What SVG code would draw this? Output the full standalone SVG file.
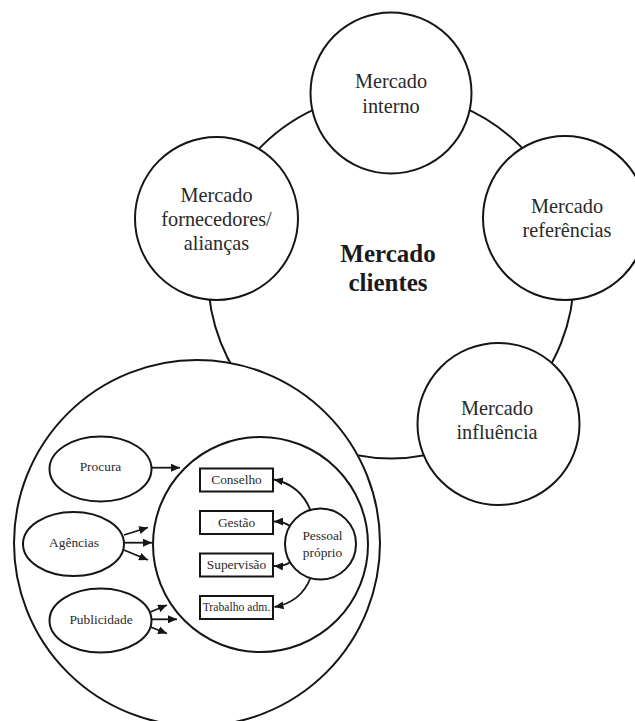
<svg xmlns="http://www.w3.org/2000/svg" width="635" height="721" viewBox="0 0 635 721">
  <defs>
    <style>
      .ring { fill: #fff; stroke: #151515; stroke-width: 2; }
      .box { fill: #fff; stroke: #151515; stroke-width: 2; }
      .lbl { font-family: "Liberation Serif", "Times New Roman", serif; fill: #2a2a2a; text-anchor: middle; }
      .big { font-size: 20.3px; }
      .small { font-size: 13.4px; }
      .hub { font-size: 25px; font-weight: bold; fill: #1a1a1a; }
      .link { fill: none; stroke: #151515; stroke-width: 1.8; }
    </style>
    <marker id="head" markerUnits="userSpaceOnUse" markerWidth="10" markerHeight="8" refX="9" refY="4" orient="auto">
      <path d="M0,0 L9,4 L0,8 z" fill="#151515"/>
    </marker>
  </defs>

  <!-- central market ring -->
  <g id="mercado-clientes">
    <circle class="ring" cx="391" cy="275.5" r="183"/>
    <text class="lbl hub" x="388" y="262">Mercado</text>
    <text class="lbl hub" x="388" y="291">clientes</text>
  </g>

  <g id="mercado-interno">
    <circle class="ring" cx="391" cy="93" r="80.5"/>
    <text class="lbl big" x="391" y="88">Mercado</text>
    <text class="lbl big" x="391" y="113">interno</text>
  </g>

  <g id="mercado-fornecedores">
    <circle class="ring" cx="216.5" cy="218.5" r="81.5"/>
    <text class="lbl big" x="216.5" y="202">Mercado</text>
    <text class="lbl big" x="216.5" y="226">fornecedores/</text>
    <text class="lbl big" x="216.5" y="250">alianças</text>
  </g>

  <g id="mercado-referencias">
    <circle class="ring" cx="565" cy="218" r="82"/>
    <text class="lbl big" x="567" y="213">Mercado</text>
    <text class="lbl big" x="567" y="237">referências</text>
  </g>

  <g id="mercado-influencia">
    <circle class="ring" cx="498.5" cy="424" r="81"/>
    <text class="lbl big" x="497" y="415">Mercado</text>
    <text class="lbl big" x="497" y="439">influência</text>
  </g>

  <!-- recruitment market (lower left) -->
  <g id="mercado-recrutamento">
    <circle class="ring" cx="197" cy="543" r="183"/>
  </g>

  <g id="organizacao">
    <circle class="ring" cx="260.5" cy="544.5" r="107.5"/>
  </g>

  <g id="procura">
    <ellipse class="ring" cx="100.5" cy="469" rx="51" ry="32.5"/>
    <text class="lbl small" x="100.5" y="471">Procura</text>
  </g>

  <g id="agencias">
    <ellipse class="ring" cx="73.5" cy="544" rx="50.5" ry="32"/>
    <text class="lbl small" x="74" y="547">Agências</text>
  </g>

  <g id="publicidade">
    <ellipse class="ring" cx="100.5" cy="620.5" rx="51" ry="32"/>
    <text class="lbl small" x="101" y="623.5">Publicidade</text>
  </g>

  <g id="conselho">
    <rect class="box" x="200" y="468.5" width="73" height="23"/>
    <text class="lbl small" x="236.5" y="484">Conselho</text>
  </g>

  <g id="gestao">
    <rect class="box" x="200" y="511" width="73" height="23"/>
    <text class="lbl small" x="236.5" y="526.5">Gestão</text>
  </g>

  <g id="supervisao">
    <rect class="box" x="200" y="553.5" width="73" height="23"/>
    <text class="lbl small" x="236.5" y="569">Supervisão</text>
  </g>

  <g id="trabalho-adm">
    <rect class="box" x="200" y="596" width="73" height="23"/>
    <text class="lbl" style="font-size:11.7px" x="236.5" y="611">Trabalho adm.</text>
  </g>

  <g id="pessoal-proprio">
    <circle class="ring" cx="320.5" cy="544" r="35.5"/>
    <text class="lbl small" x="322.5" y="540">Pessoal</text>
    <text class="lbl small" x="322.5" y="556.5">próprio</text>
  </g>

  <!-- connectors -->
  <g id="connectors">
    <path class="link" d="M152,467.7 L180,467.7" marker-end="url(#head)"/>

    <path class="link" d="M124,535 L148,527.5" marker-end="url(#head)"/>
    <path class="link" d="M125,542.7 L152,542.7" marker-end="url(#head)"/>
    <path class="link" d="M124,550 L148,560" marker-end="url(#head)"/>

    <path class="link" d="M150.5,612 L167,605" marker-end="url(#head)"/>
    <path class="link" d="M151.5,619.3 L177,619.3" marker-end="url(#head)"/>
    <path class="link" d="M150.5,627 L167,633.5" marker-end="url(#head)"/>

    <path class="link" d="M310.5,510 Q300,485 274,479.5" marker-end="url(#head)"/>
    <path class="link" d="M290,526 Q284,521.5 274,521.5" marker-end="url(#head)"/>
    <path class="link" d="M289.5,562.5 Q284,566.5 274,566" marker-end="url(#head)"/>
    <path class="link" d="M310.5,578 Q301,602 274.5,607" marker-end="url(#head)"/>
  </g>
</svg>
